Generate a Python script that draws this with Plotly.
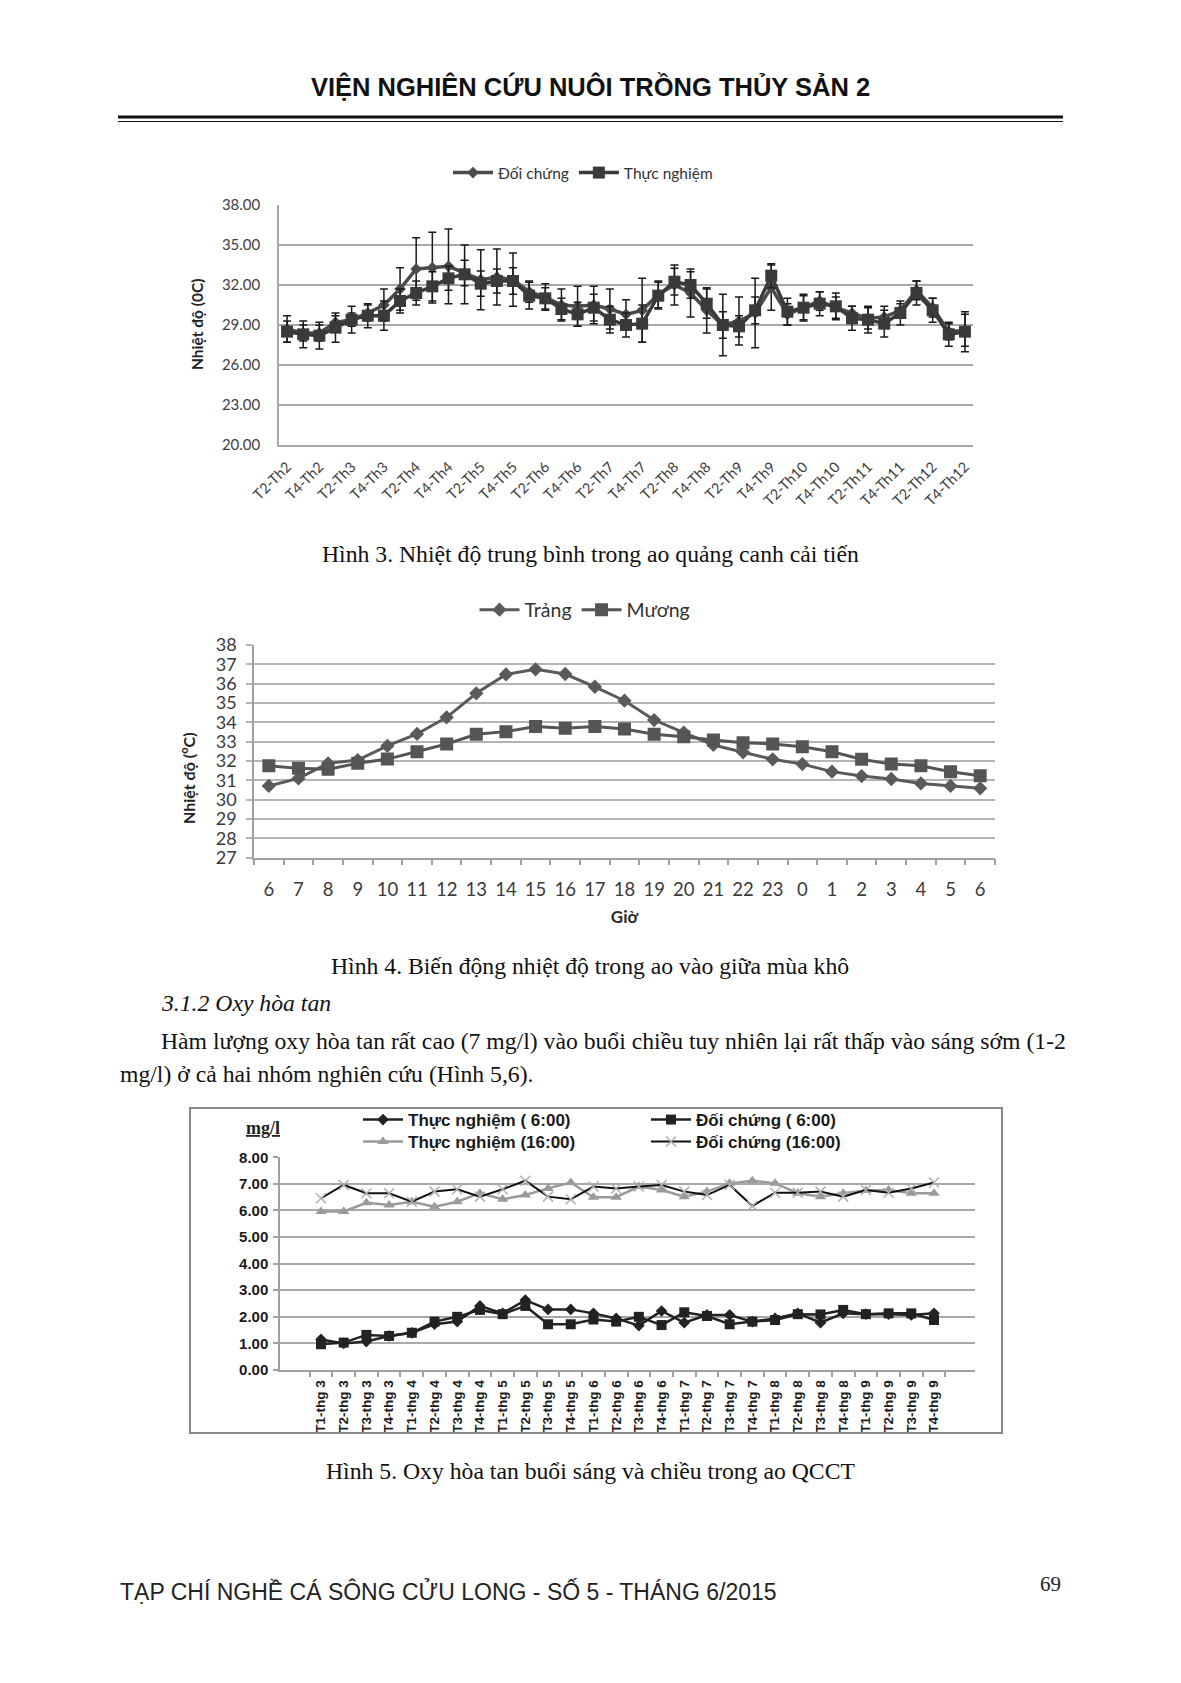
import plotly.graph_objects as go

W, H = 1181, 1683
PAGE_OFFSET = 8  # default body margin of the html page


def fx(px):
    return (px - PAGE_OFFSET) / W


def fy(py):
    return 1 - (py - PAGE_OFFSET) / H


# ---------------- Data: Hình 3 ----------------
h3_ticklabels = ["T2-Th2", "T4-Th2", "T2-Th3", "T4-Th3", "T2-Th4", "T4-Th4", "T2-Th5", "T4-Th5",
                 "T2-Th6", "T4-Th6", "T2-Th7", "T4-Th7", "T2-Th8", "T4-Th8", "T2-Th9", "T4-Th9",
                 "T2-Th10", "T4-Th10", "T2-Th11", "T4-Th11", "T2-Th12", "T4-Th12"]
h3_doi_chung = [28.7, 28.4, 28.4, 29.2, 29.4, 29.9, 30.5, 31.7, 33.2, 33.3, 33.4,
                32.9, 32.4, 32.6, 32.4, 31.5, 31.1, 30.5, 30.4, 30.5, 30.2, 29.8,
                30.1, 31.3, 32.0, 31.4, 30.1, 29.0, 29.3, 29.9, 31.8, 29.8, 30.3,
                30.8, 30.3, 29.9, 29.5, 29.6, 30.1, 31.6, 30.3, 28.5, 28.6]
h3_doi_chung_err = [1.0, 0.6, 0.6, 0.5, 0.5, 0.6, 1.2, 1.6, 2.35, 2.65, 2.8,
                    0.95, 2.25, 2.1, 2.0, 0.8, 1.0, 1.2, 1.5, 1.4, 1.5, 1.1,
                    2.4, 1.0, 1.5, 1.8, 1.7, 2.3, 1.8, 2.6, 1.7, 0.8, 1.0,
                    0.7, 0.8, 0.5, 0.8, 0.8, 0.5, 0.7, 0.7, 0.6, 1.2]
h3_thuc_nghiem = [28.5, 28.3, 28.2, 28.8, 29.4, 29.7, 29.7, 30.8, 31.4, 31.9, 32.5,
                  32.8, 32.1, 32.3, 32.3, 31.2, 31.0, 30.2, 29.8, 30.3, 29.4, 29.0,
                  29.1, 31.2, 32.25, 32.0, 30.6, 29.0, 28.9, 30.1, 32.7, 30.0, 30.3,
                  30.6, 30.4, 29.5, 29.4, 29.1, 29.9, 31.4, 30.1, 28.3, 28.5]
h3_thuc_nghiem_err = [0.8, 1.0, 1.0, 1.1, 1.0, 0.9, 1.1, 0.9, 0.9, 1.1, 0.9,
                      2.2, 0.95, 0.9, 1.0, 1.0, 0.8, 0.8, 0.9, 1.0, 1.0, 0.9,
                      1.4, 1.0, 1.0, 1.0, 1.1, 1.0, 0.8, 1.0, 0.9, 1.0, 0.9,
                      0.9, 1.0, 0.9, 1.0, 1.0, 0.9, 0.9, 0.9, 0.9, 1.5]

# ---------------- Data: Hình 4 ----------------
h4_hours = ["6", "7", "8", "9", "10", "11", "12", "13", "14", "15", "16", "17", "18",
            "19", "20", "21", "22", "23", "0", "1", "2", "3", "4", "5", "6"]
h4_trang = [30.71, 31.10, 31.88, 32.05, 32.78, 33.40, 34.26, 35.50, 36.48, 36.74, 36.50,
            35.84, 35.12, 34.12, 33.47, 32.83, 32.45, 32.09, 31.84, 31.45, 31.22, 31.07,
            30.84, 30.71, 30.59]
h4_muong = [31.76, 31.62, 31.57, 31.88, 32.10, 32.48, 32.88, 33.38, 33.52, 33.78, 33.69,
            33.78, 33.66, 33.38, 33.26, 33.09, 32.95, 32.88, 32.74, 32.48, 32.09, 31.84,
            31.76, 31.45, 31.24]

# ---------------- Data: Hình 5 ----------------
h5_categories = ["T1-thg 3", "T2-thg 3", "T3-thg 3", "T4-thg 3",
                 "T1-thg 4", "T2-thg 4", "T3-thg 4", "T4-thg 4",
                 "T1-thg 5", "T2-thg 5", "T3-thg 5", "T4-thg 5",
                 "T1-thg 6", "T2-thg 6", "T3-thg 6", "T4-thg 6",
                 "T1-thg 7", "T2-thg 7", "T3-thg 7", "T4-thg 7",
                 "T1-thg 8", "T2-thg 8", "T3-thg 8", "T4-thg 8",
                 "T1-thg 9", "T2-thg 9", "T3-thg 9", "T4-thg 9"]
h5_tn_6 = [1.15, 1.00, 1.07, 1.28, 1.40, 1.72, 1.82, 2.41, 2.13, 2.63, 2.28, 2.28, 2.13, 1.94,
           1.67, 2.22, 1.78, 2.07, 2.07, 1.82, 1.94, 2.13, 1.78, 2.13, 2.10, 2.10, 2.07, 2.13]
h5_dc_6 = [0.97, 1.03, 1.32, 1.28, 1.40, 1.82, 2.00, 2.26, 2.10, 2.41, 1.72, 1.72, 1.90, 1.82,
           2.00, 1.69, 2.17, 2.03, 1.72, 1.82, 1.88, 2.10, 2.09, 2.26, 2.10, 2.13, 2.13, 1.88]
h5_tn_16 = [5.96, 5.96, 6.29, 6.21, 6.33, 6.14, 6.33, 6.65, 6.42, 6.58, 6.83, 7.05, 6.50, 6.50,
            6.90, 6.77, 6.52, 6.71, 7.02, 7.12, 7.02, 6.65, 6.52, 6.65, 6.75, 6.77, 6.65, 6.65]
h5_dc_16 = [6.46, 6.96, 6.65, 6.65, 6.33, 6.71, 6.80, 6.52, 6.80, 7.12, 6.52, 6.42, 6.90, 6.83,
            6.90, 6.96, 6.71, 6.58, 6.96, 6.17, 6.67, 6.67, 6.71, 6.52, 6.77, 6.67, 6.83, 7.05]

# ---------------- Fonts ----------------
CHART_FONT = "Lato, 'Open Sans', sans-serif"
ARIAL = "'Liberation Sans', Arial, sans-serif"
SERIF = "'Liberation Serif', 'Times New Roman', serif"
NARROW = "'Liberation Sans Narrow', 'Liberation Sans', sans-serif"
BODY = 23.7

fig = go.Figure()

# ---------- Hình 3 traces ----------
h3_x = list(range(len(h3_thuc_nghiem)))
fig.add_trace(go.Scatter(
    x=h3_x, y=h3_doi_chung, name="Đối chứng", mode="lines+markers",
    line=dict(color="#4a4a4a", width=3.5),
    marker=dict(symbol="diamond", size=9, color="#4a4a4a"),
    error_y=dict(type="data", array=h3_doi_chung_err, color="#1a1a1a", thickness=1.5, width=4),
    xaxis="x", yaxis="y", legend="legend"))
fig.add_trace(go.Scatter(
    x=h3_x, y=h3_thuc_nghiem, name="Thực nghiệm", mode="lines+markers",
    line=dict(color="#3a3a3a", width=3.5),
    marker=dict(symbol="square", size=12, color="#3a3a3a"),
    error_y=dict(type="data", array=h3_thuc_nghiem_err, color="#1a1a1a", thickness=1.5, width=4),
    xaxis="x", yaxis="y", legend="legend"))

# ---------- Hình 4 traces ----------
h4_x = list(range(len(h4_hours)))
fig.add_trace(go.Scatter(
    x=h4_x, y=h4_trang, name="Trảng", mode="lines+markers",
    line=dict(color="#5a5a5a", width=3),
    marker=dict(symbol="diamond", size=11, color="#5a5a5a"),
    xaxis="x2", yaxis="y2", legend="legend2"))
fig.add_trace(go.Scatter(
    x=h4_x, y=h4_muong, name="Mương", mode="lines+markers",
    line=dict(color="#555555", width=3),
    marker=dict(symbol="square", size=13, color="#555555"),
    xaxis="x2", yaxis="y2", legend="legend2"))

# ---------- Hình 5 traces ----------
fig.add_trace(go.Scatter(
    x=h5_categories, y=h5_tn_16, name="Thực nghiệm (16:00)", mode="lines+markers",
    line=dict(color="#9a9a9a", width=2.5),
    marker=dict(symbol="triangle-up", size=10, color="#9a9a9a"),
    xaxis="x3", yaxis="y3", legend="legend4"))
fig.add_trace(go.Scatter(
    x=h5_categories, y=h5_dc_16, name="Đối chứng (16:00)", mode="lines+markers",
    line=dict(color="#111111", width=2),
    marker=dict(symbol="x-thin", size=10, color="#b0b0b0", line=dict(color="#b0b0b0", width=1.5)),
    xaxis="x3", yaxis="y3", legend="legend4"))
fig.add_trace(go.Scatter(
    x=h5_categories, y=h5_tn_6, name="Thực nghiệm ( 6:00)", mode="lines+markers",
    line=dict(color="#222222", width=2.5),
    marker=dict(symbol="diamond", size=9, color="#222222"),
    xaxis="x3", yaxis="y3", legend="legend3"))
fig.add_trace(go.Scatter(
    x=h5_categories, y=h5_dc_6, name="Đối chứng ( 6:00)", mode="lines+markers",
    line=dict(color="#222222", width=2.5),
    marker=dict(symbol="square", size=10, color="#222222"),
    xaxis="x3", yaxis="y3", legend="legend3"))

GRID1 = "#a8a8a8"

layout = dict(
    width=W, height=H,
    margin=dict(l=0, r=0, t=0, b=0, autoexpand=False),
    paper_bgcolor="white", plot_bgcolor="white",
    showlegend=True,
    # ----- Hình 3 axes -----
    xaxis=dict(domain=[fx(279), fx(973)], anchor="y", range=[-0.5, len(h3_x) - 0.5],
               tickmode="array", tickvals=h3_x[::2], ticktext=h3_ticklabels,
               tickangle=-45, showgrid=False, zeroline=False, showline=True,
               linecolor=GRID1, linewidth=1.5, ticks="", automargin=False,
               tickfont=dict(family=CHART_FONT, size=14.5, color="#404040"),
               ticklabelstandoff=6),
    yaxis=dict(domain=[fy(445), fy(205)], anchor="x", range=[20, 38], dtick=3, tick0=20,
               tickformat=".2f", showgrid=True, gridcolor=GRID1, gridwidth=1.5,
               zeroline=False, showline=True, linecolor=GRID1, linewidth=1.5, ticks="",
               automargin=False,
               tickfont=dict(family=CHART_FONT, size=15, color="#404040"),
               ticklabelstandoff=14),
    # ----- Hình 4 axes -----
    xaxis2=dict(domain=[fx(254), fx(995)], anchor="y2", range=[-0.5, len(h4_x) - 0.5],
                tickmode="array", tickvals=h4_x, ticktext=h4_hours, ticks="",
                showgrid=False, zeroline=False, showline=True, linecolor="#a0a0a0", linewidth=1.5,
                automargin=False,
                minor=dict(tickmode="array", tickvals=[v - 0.5 for v in h4_x] + [h4_x[-1] + 0.5],
                           ticks="outside", ticklen=6, tickcolor="#a0a0a0", tickwidth=1.5,
                           showgrid=False),
                tickfont=dict(family=CHART_FONT, size=18.5, color="#3a3a3a"),
                ticklabelstandoff=14,
                title=dict(text="<b>Giờ</b>", font=dict(family=CHART_FONT, size=17, color="#2a2a2a"),
                           standoff=12)),
    yaxis2=dict(domain=[fy(857.7), fy(645)], anchor="x2", range=[27, 38], dtick=1, tick0=27,
                showgrid=True, gridcolor="#b4b4b4", gridwidth=1.5, zeroline=False,
                showline=True, linecolor="#a0a0a0", linewidth=1.5, automargin=False,
                ticks="outside", ticklen=6, tickcolor="#b4b4b4", tickwidth=1.5,
                tickfont=dict(family=CHART_FONT, size=18, color="#3a3a3a"),
                ticklabelstandoff=6),
    # ----- Hình 5 axes -----
    xaxis3=dict(domain=[fx(280), fx(975)], anchor="y3", type="category",
                categoryorder="array", categoryarray=h5_categories,
                tickson="boundaries", ticks="outside", ticklen=5, tickcolor="#a0a0a0", tickwidth=1.5,
                tickangle=-90, showgrid=False, zeroline=False, showline=True,
                linecolor="#a0a0a0", linewidth=1.5, automargin=False,
                tickfont=dict(family=ARIAL, size=13.5, color="#1a1a1a", weight="bold"),
                ticklabelstandoff=3),
    yaxis3=dict(domain=[fy(1370), fy(1157.3)], anchor="x3", range=[0, 8], dtick=1, tick0=0,
                tickformat=".2f", showgrid=True, gridcolor="#a8a8a8", gridwidth=1.5,
                zeroline=False, showline=True, linecolor="#a0a0a0", linewidth=1.5,
                automargin=False,
                ticks="outside", ticklen=5, tickcolor="#a0a0a0", tickwidth=1.5,
                tickfont=dict(family=ARIAL, size=15, color="#1a1a1a", weight="bold"),
                ticklabelstandoff=2),
    # ----- Legends -----
    legend=dict(orientation="h", x=fx(583), xanchor="center", y=fy(173), yanchor="middle",
                font=dict(family=CHART_FONT, size=15.5, color="#333333"), bgcolor="rgba(0,0,0,0)",
                itemwidth=40),
    legend2=dict(orientation="h", x=fx(585), xanchor="center", y=fy(610), yanchor="middle",
                 font=dict(family=CHART_FONT, size=19.5, color="#333333"), bgcolor="rgba(0,0,0,0)",
                 itemwidth=40),
    legend3=dict(orientation="h", x=fx(358), xanchor="left", y=fy(1120), yanchor="middle",
                 font=dict(family=ARIAL, size=17, color="#1a1a1a", weight="bold"),
                 bgcolor="rgba(0,0,0,0)", entrywidth=233, entrywidthmode="pixels",
                 traceorder="normal", itemwidth=40),
    legend4=dict(orientation="h", x=fx(358), xanchor="left", y=fy(1142), yanchor="middle",
                 font=dict(family=ARIAL, size=17, color="#1a1a1a", weight="bold"),
                 bgcolor="rgba(0,0,0,0)", entrywidth=233, entrywidthmode="pixels",
                 traceorder="normal", itemwidth=40),
)
fig.update_layout(**layout)

# ---------- Page text ----------
annotations = [
    dict(text="<b>VIỆN NGHIÊN CỨU NUÔI TRỒNG THỦY SẢN 2</b>", x=fx(590), y=fy(86),
         font=dict(family=NARROW, size=25.5, color="#111111")),
    # Hình 3 y title
    dict(text="<b>Nhiệt độ (0C)</b>", x=fx(197), y=fy(325), textangle=-90,
         font=dict(family=CHART_FONT, size=15.5, color="#222222")),
    dict(text="Hình 3. Nhiệt độ trung bình trong ao quảng canh cải tiến", x=fx(590), y=fy(554),
         font=dict(family=SERIF, size=BODY, color="#111111")),
    # Hình 4 y title
    dict(text="<b>Nhiệt độ (<sup>o</sup>C)</b>", x=fx(188), y=fy(778), textangle=-90,
         font=dict(family=CHART_FONT, size=16, color="#222222")),
    dict(text="Hình 4. Biến động nhiệt độ trong ao vào giữa mùa khô", x=fx(590), y=fy(966),
         font=dict(family=SERIF, size=BODY, color="#111111")),
    dict(text="<i>3.1.2 Oxy hòa tan</i>", x=fx(159), y=fy(1003), xanchor="left",
         font=dict(family=SERIF, size=BODY, color="#111111")),
    dict(text="Hàm lượng oxy hòa tan rất cao (7 mg/l) vào buổi chiều tuy nhiên lại rất thấp vào sáng sớm (1-2",
         x=fx(159), y=fy(1041), xanchor="left",
         font=dict(family=SERIF, size=BODY, color="#111111")),
    dict(text="mg/l) ở cả hai nhóm nghiên cứu (Hình 5,6).", x=fx(118), y=fy(1074), xanchor="left",
         font=dict(family=SERIF, size=BODY, color="#111111")),
    # Hình 5 unit label
    dict(text="<b><u>mg/l</u></b>", x=fx(263), y=fy(1128),
         font=dict(family=SERIF, size=18, color="#222222")),
    dict(text="Hình 5. Oxy hòa tan buổi sáng và chiều trong ao QCCT", x=fx(590), y=fy(1471),
         font=dict(family=SERIF, size=BODY, color="#111111")),
    dict(text="TẠP CHÍ NGHỀ CÁ SÔNG CỬU LONG - SỐ 5 - THÁNG 6/2015", x=fx(118), y=fy(1591),
         xanchor="left", font=dict(family=NARROW, size=23, color="#222222")),
    dict(text="69", x=fx(1050), y=fy(1584),
         font=dict(family=SERIF, size=21, color="#222222")),
]
for a in annotations:
    a.setdefault("xref", "paper")
    a.setdefault("yref", "paper")
    a.setdefault("showarrow", False)
    a.setdefault("xanchor", "center")
    a.setdefault("yanchor", "middle")
fig.update_layout(annotations=annotations)

shapes = [
    dict(type="line", xref="paper", yref="paper", x0=fx(118), x1=fx(1063), y0=fy(117), y1=fy(117),
         line=dict(color="#111111", width=3)),
    dict(type="line", xref="paper", yref="paper", x0=fx(118), x1=fx(1063), y0=fy(121.5), y1=fy(121.5),
         line=dict(color="#111111", width=1)),
    dict(type="rect", xref="paper", yref="paper", x0=fx(190), x1=fx(1002), y0=fy(1433), y1=fy(1108),
         line=dict(color="#8a8a8a", width=2), fillcolor="rgba(0,0,0,0)"),
]
fig.update_layout(shapes=shapes)

fig.write_html("out.html")
